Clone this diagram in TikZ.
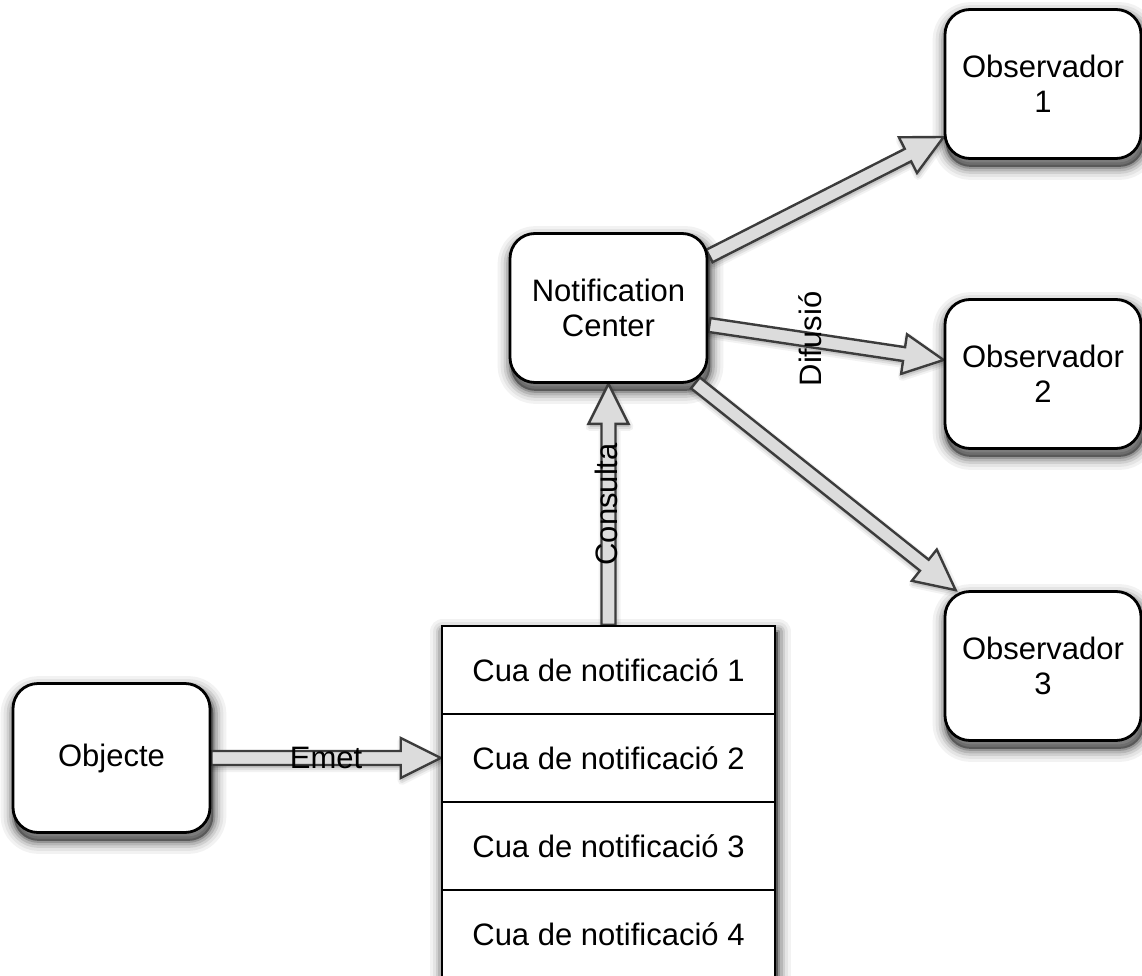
\documentclass[tikz,border=0pt]{standalone}
\usepackage{fontspec}
\setmainfont{Liberation Sans}
\usetikzlibrary{calc}

\definecolor{arrowfill}{HTML}{DCDCDC}
\definecolor{arrowline}{HTML}{3C3C3C}

\pgfdeclarelayer{shadows}
\pgfdeclarelayer{arrows}
\pgfsetlayers{shadows,arrows,main}

\tikzset{
  roundbox/.style={draw=black, line width=2.8pt, fill=white, rounded corners=25pt,
      minimum width=197pt, minimum height=149pt, align=center},
  queuebox/.style={draw=black, line width=2.6pt, fill=white,
      minimum width=333pt, minimum height=88pt},
  fatarrowstyle/.style={draw=arrowline, fill=arrowfill, line width=2.4pt, line join=miter},
  arrowlabel/.style={inner sep=0pt}
}

% soft drop shadow under the nodes #1 (north west) .. #2 (south east), corner radius #3
\newcommand{\softshadow}[3]{%
  \coordinate (shnw) at ($(#1.north west)+(2,7)$);
  \coordinate (shse) at ($(#2.south east)+(2,7)$);
  \fill[black, opacity=0.40, rounded corners=#3] (shnw) rectangle (shse);
  \foreach \w/\o in {26/0.05, 20/0.06, 14/0.09, 9/0.12, 4/0.18}
    \draw[black, opacity=\o, line width=\w pt, line join=round, rounded corners=#3]
      (shnw) rectangle (shse);
}

% outline of a block arrow from #1 to #2 whose head starts at #3
\newcommand{\arrowpoly}[3]{($(#1)!7pt!90:(#2)$) -- ($(#3)!7pt!-90:(#1)$)
  -- ($(#3)!20pt!-90:(#1)$) -- (#2) -- ($(#3)!20pt!90:(#1)$)
  -- ($(#3)!7pt!90:(#1)$) -- ($(#1)!7pt!-90:(#2)$) -- cycle}

% hollow block arrow with a light shadow, from #1 to #2
\newcommand{\fatarrow}[2]{%
  \coordinate (fas) at (#1);
  \coordinate (fae) at (#2);
  \coordinate (fab) at ($(fae)!40pt!(fas)$);
  \coordinate (gas) at ($(fas)+(1,3)$);
  \coordinate (gae) at ($(fae)+(1,3)$);
  \coordinate (gab) at ($(fab)+(1,3)$);
  \fill[black, opacity=0.10] \arrowpoly{gas}{gae}{gab};
  \foreach \w/\o in {8/0.05, 4/0.08}
    \draw[black, opacity=\o, line width=\w pt, line join=round] \arrowpoly{gas}{gae}{gab};
  \path[fatarrowstyle] \arrowpoly{fas}{fae}{fab};
}

\begin{document}
\begin{tikzpicture}[x=1pt, y=-1pt, font=\fontsize{31}{35}\selectfont]
\useasboundingbox (0,0) rectangle (1142,976);

% queue stack
\node[queuebox] (q1) at (608.5,670) {Cua de notificació 1};
\node[queuebox] (q2) at (608.5,758) {Cua de notificació 2};
\node[queuebox] (q3) at (608.5,846) {Cua de notificació 3};
\node[queuebox] (q4) at (608.5,934) {Cua de notificació 4};

% rounded boxes
\node[roundbox] (obj)  at (111.5,758) {Objecte};
\node[roundbox] (nc)   at (608.5,308) {Notification\\Center};
\node[roundbox, minimum width=196pt] (obs1) at (1043,84)  {Observador\\1};
\node[roundbox, minimum width=196pt] (obs2) at (1043,374) {Observador\\2};
\node[roundbox, minimum width=196pt] (obs3) at (1043,666) {Observador\\3};

% shadows behind everything
\begin{pgfonlayer}{shadows}
  \softshadow{q1}{q4}{0pt}
  \softshadow{obj}{obj}{25pt}
  \softshadow{nc}{nc}{25pt}
  \softshadow{obs1}{obs1}{25pt}
  \softshadow{obs2}{obs2}{25pt}
  \softshadow{obs3}{obs3}{25pt}
\end{pgfonlayer}

% connectors
\begin{pgfonlayer}{arrows}
  \fatarrow{obj.east}{q2.west}
  \fatarrow{q1.north}{nc.south}
  \fatarrow{$(nc.east)+(1,-52)$}{$(obs1.west)+(0,53)$}
  \fatarrow{$(nc.east)+(1,17)$}{$(obs2.west)+(0,-14)$}
  \fatarrow{$(nc.south east)+(-13,-1)$}{$(obs3.north west)+(12,0)$}
\end{pgfonlayer}

% connector labels
\node[arrowlabel] (lemet) at ($(obj.east)!0.5!(q2.west)$) {Emet};
\node[arrowlabel, rotate=90] (lcons) at ($(q1.north)!0.5!(nc.south)+(-2,0)$) {Consulta};
\node[arrowlabel, rotate=90] (ldif) at (810,339) {Difusió};
\end{tikzpicture}
\end{document}
